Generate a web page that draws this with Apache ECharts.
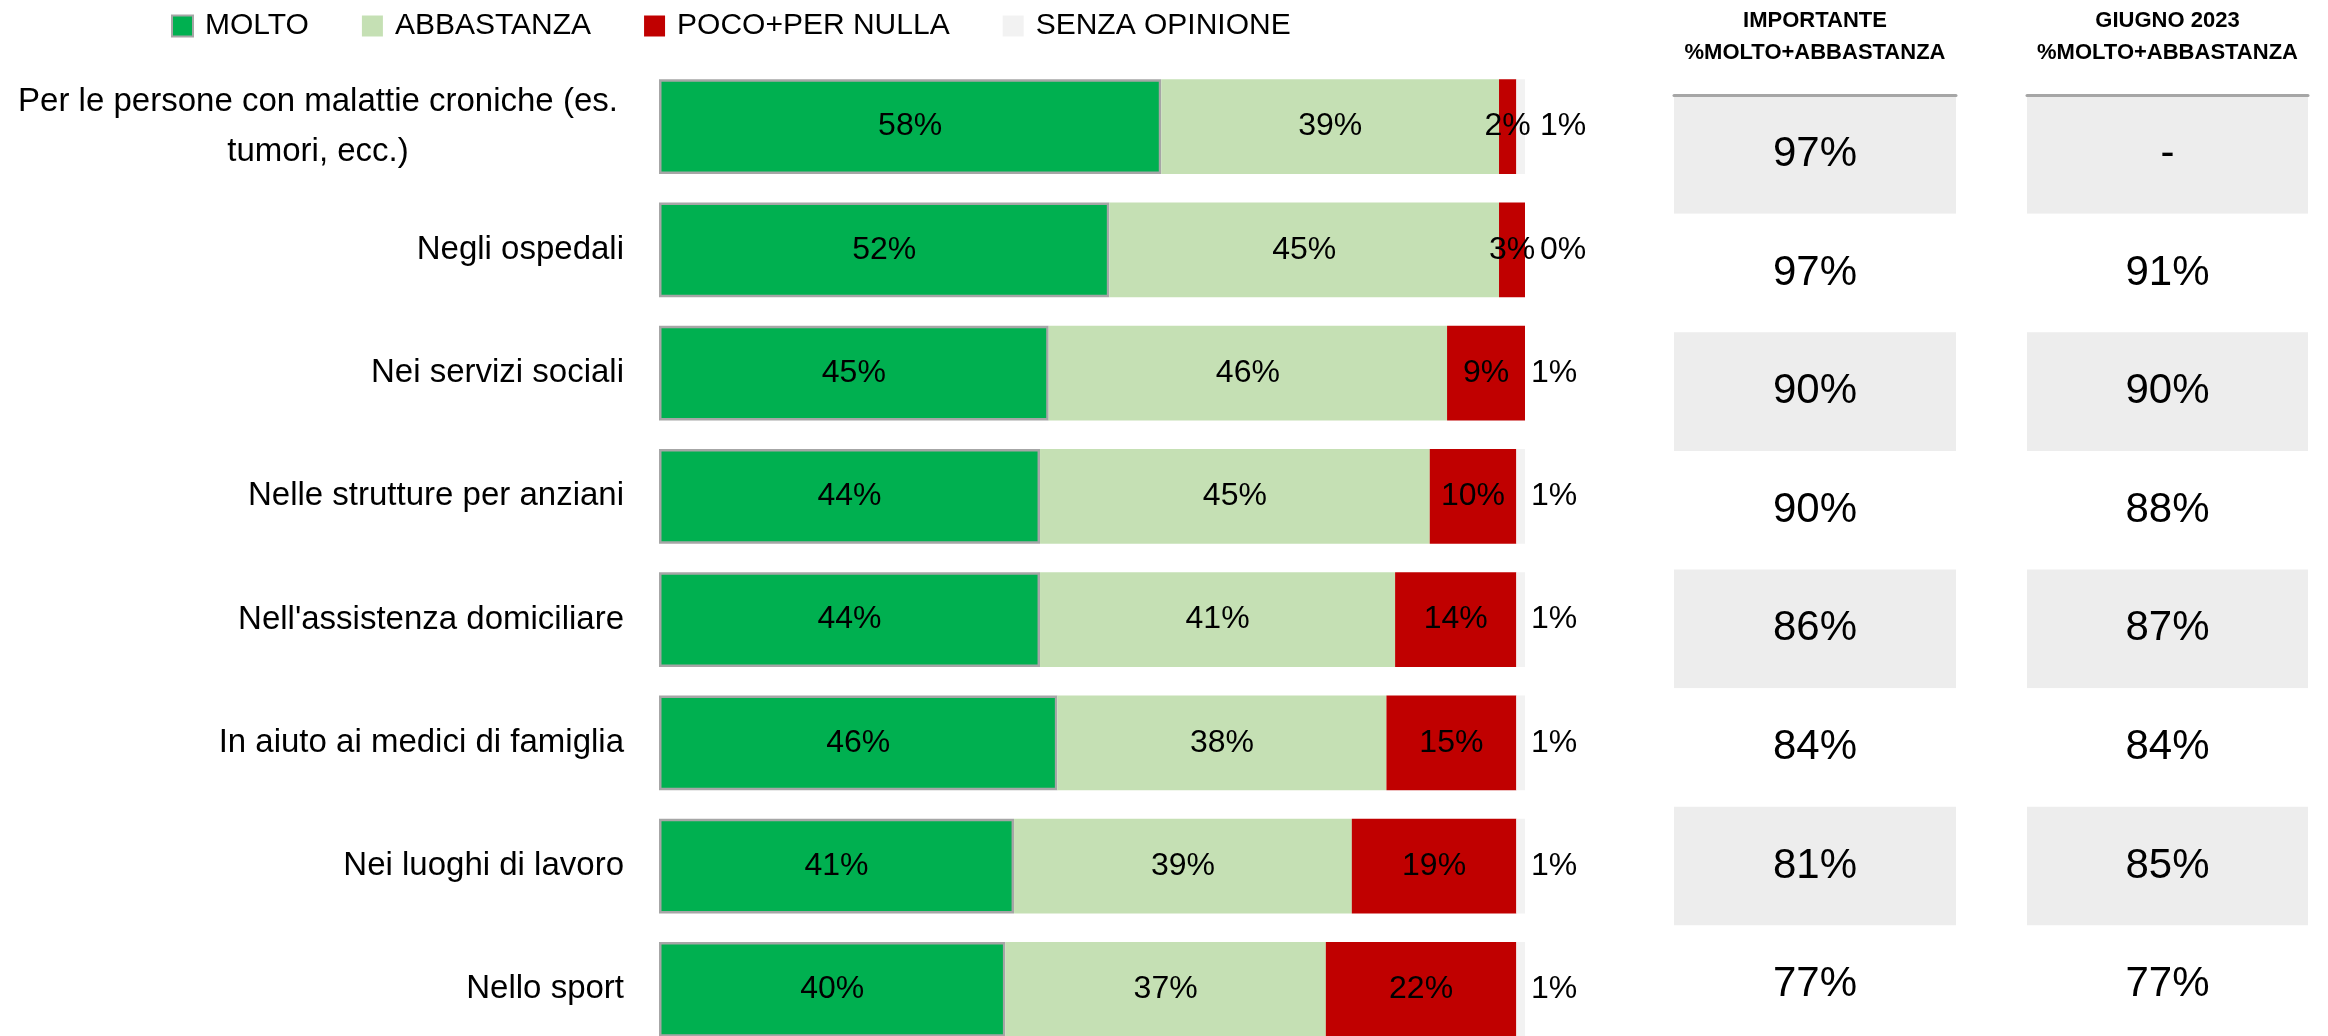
<!DOCTYPE html>
<html>
<head>
<meta charset="utf-8">
<script src="https://cdn.jsdelivr.net/npm/echarts@6/dist/echarts.min.js"></script>
<style>
  html, body { margin: 0; padding: 0; background: #fff; overflow: hidden; }
  /* the last row is cut by the bottom edge, as in the slide */
  #chart { width: 2328px; height: 1060px; }
</style>
</head>
<body>
<div id="chart"></div>
<script>
// categorie (dall'alto in basso)
const categories = [
  'Per le persone con malattie croniche (es.\ntumori, ecc.)',
  'Negli ospedali',
  'Nei servizi sociali',
  'Nelle strutture per anziani',
  "Nell'assistenza domiciliare",
  'In aiuto ai medici di famiglia',
  'Nei luoghi di lavoro',
  'Nello sport'
];

const molto = [58, 52, 45, 44, 44, 46, 41, 40];
const abbastanza = [39, 45, 46, 45, 41, 38, 39, 37];
const pocoNulla = [2, 3, 9, 10, 14, 15, 19, 22];
const senzaOpinione = [1, 0, 1, 1, 1, 1, 1, 1];

// tabella a destra
const importante = [97, 97, 90, 90, 86, 84, 81, 77];
const giugno2023 = [null, 91, 90, 88, 87, 84, 85, 77];

const FONT = 'Liberation Sans';
const chart = echarts.init(document.getElementById('chart'));

function pct(v) {
  return v === null ? '-' : v + '%';
}

// serie della tabella: una cella per riga, sfondo alternato
function tableSeries(idx, values) {
  return {
    type: 'bar',
    xAxisIndex: idx,
    yAxisIndex: idx,
    barCategoryGap: '0%',
    silent: true,
    data: values.map((v, i) => ({
      value: 1,
      itemStyle: { color: i % 2 === 0 ? '#EDEDED' : '#FFFFFF' }
    })),
    label: {
      show: true,
      position: 'inside',
      color: '#000',
      fontFamily: FONT,
      fontSize: 42,
      formatter: p => pct(values[p.dataIndex])
    }
  };
}

function stackSeries(name, data, color, extra) {
  return Object.assign({
    name: name,
    type: 'bar',
    stack: 'tot',
    barCategoryGap: '23%',
    data: data,
    itemStyle: { color: color },
    label: {
      show: true,
      position: 'inside',
      color: '#000',
      fontFamily: FONT,
      fontSize: 32,
      formatter: '{c}%'
    }
  }, extra || {});
}

function tableXAxis(idx, title) {
  return {
    gridIndex: idx,
    type: 'value',
    min: 0,
    max: 1,
    position: 'top',
    z: 10,
    axisLine: { show: true, lineStyle: { color: '#A6A6A6', width: 3 } },
    axisTick: { show: false },
    axisLabel: { show: false },
    splitLine: { show: false },
    name: title,
    nameLocation: 'middle',
    nameGap: 26,
    nameTextStyle: {
      fontFamily: FONT,
      fontWeight: 'bold',
      fontSize: 22,
      color: '#000',
      lineHeight: 32,
      verticalAlign: 'bottom'
    }
  };
}

function tableYAxis(idx) {
  return {
    gridIndex: idx,
    type: 'category',
    inverse: true,
    data: categories,
    show: false
  };
}

// etichetta "senza opinione" un po' più lontana quando quella rossa sborda
const senzaData = senzaOpinione.map((v, i) => ({
  value: v,
  label: { distance: pocoNulla[i] < 5 ? 15 : 6 }
}));

const option = {
  animation: false,
  backgroundColor: '#fff',
  textStyle: { fontFamily: FONT },
  legend: {
    left: 166,
    top: 6,
    itemWidth: 21,
    itemHeight: 21,
    itemGap: 53,
    icon: 'rect',
    textStyle: { fontFamily: FONT, fontSize: 30, color: '#000', padding: [0, 0, 0, 7] },
    data: ['MOLTO', 'ABBASTANZA', 'POCO+PER NULLA', 'SENZA OPINIONE']
  },
  grid: [
    { left: 659, width: 866, top: 65, height: 986 },
    { left: 1674, width: 282, top: 92, height: 952 },
    { left: 2027, width: 281, top: 92, height: 952 }
  ],
  xAxis: [
    { gridIndex: 0, type: 'value', min: 0, max: 100, show: false },
    tableXAxis(1, 'IMPORTANTE\n%MOLTO+ABBASTANZA'),
    tableXAxis(2, 'GIUGNO 2023\n%MOLTO+ABBASTANZA')
  ],
  yAxis: [
    {
      gridIndex: 0,
      type: 'category',
      inverse: true,
      data: categories,
      axisLine: { show: false },
      axisTick: { show: false },
      axisLabel: {
        margin: 35,
        color: '#000',
        fontFamily: FONT,
        fontSize: 33,
        formatter: (v, i) => i === 0 ? '{c|' + v + '}' : v,
        rich: {
          c: { width: 612, align: 'center', lineHeight: 50, fontSize: 33, fontFamily: FONT, color: '#000' }
        }
      }
    },
    tableYAxis(1),
    tableYAxis(2)
  ],
  series: [
    stackSeries('MOLTO', molto, '#00B050', {
      itemStyle: { color: '#00B050', borderColor: '#A6A6A6', borderWidth: 2.5 }
    }),
    stackSeries('ABBASTANZA', abbastanza, '#C5E0B4'),
    stackSeries('POCO+PER NULLA', pocoNulla, '#C00000'),
    stackSeries('SENZA OPINIONE', senzaData, '#F2F2F2', {
      label: {
        show: true,
        position: 'right',
        distance: 6,
        color: '#000',
        fontFamily: FONT,
        fontSize: 32,
        formatter: '{c}%'
      }
    }),
    tableSeries(1, importante),
    tableSeries(2, giugno2023)
  ]
};

chart.setOption(option);
</script>
</body>
</html>
